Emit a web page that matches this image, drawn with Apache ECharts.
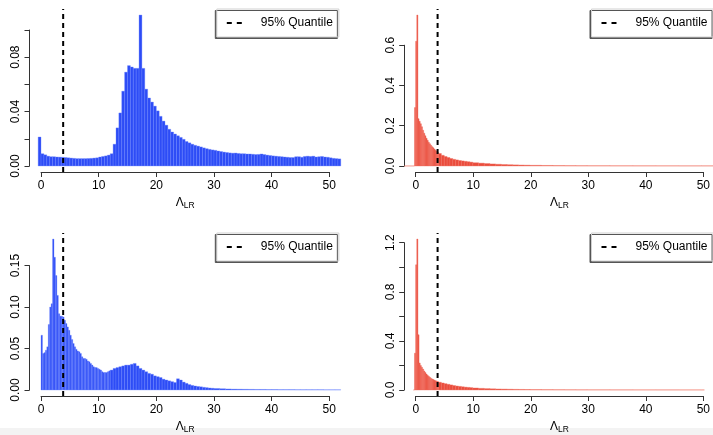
<!DOCTYPE html>
<html><head><meta charset="utf-8">
<script src="https://cdn.jsdelivr.net/npm/echarts@6/dist/echarts.min.js"></script>
<style>html,body{margin:0;padding:0;background:#fff}#c{width:713px;height:435px}</style>
</head><body><div id="c"></div>
<script>
// ---------------- data ----------------
const quantile95 = 3.84;
const legendLabel = '95% Quantile';
const xTickLabels = ['0', '10', '20', '30', '40', '50'];

// Panel 1 (top-left, blue): bins of width 0.5 starting at -0.5
const p1BinStart = -0.5;
const p1BinWidth = 0.5;
const p1Density = [
  0.0213, 0.0090, 0.0082, 0.0072, 0.0068, 0.0068, 0.0066, 0.0065, 0.0064, 0.0062,
  0.0060, 0.0058, 0.0056, 0.0054, 0.0054, 0.0054, 0.0054, 0.0055, 0.0056, 0.0058,
  0.0060, 0.0066, 0.0070, 0.0074, 0.0080, 0.0090, 0.0160, 0.0280, 0.0390, 0.0550,
  0.0690, 0.0738, 0.0728, 0.0718, 0.0718, 0.1110, 0.0718, 0.0565, 0.0500, 0.0470,
  0.0440, 0.0405, 0.0365, 0.0330, 0.0300, 0.0270, 0.0250, 0.0235, 0.0222, 0.0210,
  0.0196, 0.0180, 0.0170, 0.0160, 0.0152, 0.0146, 0.0140, 0.0133, 0.0127, 0.0122,
  0.0118, 0.0115, 0.0110, 0.0106, 0.0102, 0.0099, 0.0096, 0.0094, 0.0095, 0.0092,
  0.0090, 0.0090, 0.0088, 0.0088, 0.0086, 0.0084, 0.0085, 0.0088, 0.0084, 0.0080,
  0.0077, 0.0074, 0.0072, 0.0070, 0.0068, 0.0066, 0.0064, 0.0062, 0.0062, 0.0068,
  0.0068, 0.0064, 0.0070, 0.0072, 0.0070, 0.0072, 0.0066, 0.0068, 0.0070, 0.0066,
  0.0064, 0.0060, 0.0056, 0.0054, 0.0052
];
const p1YTicks = { max: 0.10, step: 0.02 };
const p1YTickLabels = ['0.00', '0.04', '0.08'];

// Panel 2 (top-right, red)
const p2Edges = [-2, -0.2, 0, 0.2, 0.4, 0.6, 0.8, 1, 1.2, 1.4, 1.6, 1.8, 2, 2.2, 2.4, 2.6, 2.8, 3, 3.2, 3.4, 3.6, 3.8, 4,
  4.5, 5, 5.5, 6, 6.5, 7, 7.5, 8, 8.5, 9, 9.5, 10, 11, 12, 13, 14, 15, 16, 17, 18, 19, 20, 22, 24, 26, 28, 30, 34, 38, 42, 46, 50, 52];
const p2Density = [
  0, 0.29,
  0.62, 0.75, 0.235, 0.222, 0.210, 0.195, 0.178, 0.163, 0.150, 0.138,
  0.128, 0.118, 0.110, 0.103, 0.096, 0.090, 0.084, 0.078, 0.073, 0.068,
  0.062, 0.053, 0.047, 0.042, 0.037, 0.033, 0.030, 0.027, 0.025, 0.023, 0.021, 0.019,
  0.016, 0.014, 0.012, 0.010, 0.0085, 0.0072, 0.0062, 0.0053, 0.0045, 0.0039,
  0.0032, 0.0025, 0.0019, 0.0015, 0.0012,
  0.0010, 0.0008, 0.0007, 0.0006, 0.0005,
  0.0005
];
const p2YTicks = { max: 0.6, step: 0.2 };
const p2YTickLabels = ['0.0', '0.2', '0.4', '0.6'];

// Panel 3 (bottom-left, blue)
const p3Edges = [0, 0.25, 0.5, 0.75, 1, 1.25, 1.5, 1.75, 2, 2.25, 2.5, 2.75, 3, 3.25, 3.5, 3.75, 4, 4.25, 4.5, 4.75,
  5, 5.25, 5.5, 5.75, 6, 6.25, 6.5, 6.75, 7, 7.25, 7.5, 7.75, 8, 8.25, 8.5, 8.75, 9, 9.25, 9.5, 9.75,
  10, 10.25, 10.5, 10.75, 11, 11.25, 11.5, 11.75, 12,
  12.5, 13, 13.5, 14, 14.5, 15, 15.5, 16, 16.5, 17, 17.5, 18, 18.5, 19, 19.5, 20, 20.5, 21, 21.5,
  22, 22.5, 23, 23.5, 24, 24.5, 25, 25.5, 26, 26.5, 27, 27.5, 28, 28.5, 29, 29.5, 30,
  31, 32, 33, 34, 35, 36, 37, 38, 39, 40, 41, 42, 43, 44, 45, 46, 47, 48, 49, 50, 51, 52];
const p3Density = [
  0.066, 0.044, 0.045, 0.048, 0.052, 0.079, 0.100, 0.104,
  0.182, 0.160, 0.138, 0.114, 0.092, 0.089, 0.089, 0.088,
  0.084, 0.080, 0.076, 0.072, 0.066, 0.061, 0.056, 0.052,
  0.049, 0.047, 0.046, 0.044, 0.040, 0.038, 0.038, 0.037,
  0.035, 0.034, 0.032, 0.030, 0.028, 0.027, 0.027, 0.026,
  0.025, 0.024, 0.022, 0.021, 0.021, 0.021, 0.022, 0.023,
  0.024, 0.026, 0.027, 0.028, 0.029, 0.030, 0.030, 0.031, 0.032, 0.029,
  0.026, 0.024, 0.022, 0.020, 0.019, 0.017, 0.016, 0.015, 0.013, 0.012,
  0.011, 0.010, 0.009, 0.0135, 0.012, 0.0095, 0.008, 0.0065, 0.0055, 0.0048,
  0.0042, 0.0038, 0.0032, 0.0028, 0.0024, 0.0021,
  0.0018, 0.0015, 0.0012, 0.0010, 0.0009, 0.0008, 0.0007, 0.0006, 0.0006, 0.0005, 0.0005,
  0.0004, 0.0004, 0.0004, 0.0003, 0.0003, 0.0003, 0.0003, 0.0003, 0.0002, 0.0002, 0.0002
];
const p3YTicks = { max: 0.15, step: 0.05 };
const p3YTickLabels = ['0.00', '0.05', '0.10', '0.15'];

// Panel 4 (bottom-right, red)
const p4Edges = [-0.4, -0.2, 0, 0.2, 0.4, 0.6, 0.8, 1, 1.2, 1.4, 1.6, 1.8, 2, 2.2, 2.4, 2.6, 2.8, 3, 3.2, 3.4, 3.6, 3.8, 4,
  4.5, 5, 5.5, 6, 6.5, 7, 7.5, 8, 8.5, 9, 9.5, 10, 11, 12, 13, 14, 15, 16, 17, 18, 19, 20, 22, 24, 26, 28, 30, 34, 38, 42, 46, 50, 50.5];
const p4Density = [
  0, 0.30,
  1.02, 1.23, 0.45, 0.22, 0.20, 0.185, 0.17, 0.155, 0.142, 0.130,
  0.120, 0.111, 0.103, 0.096, 0.090, 0.085, 0.080, 0.076, 0.072, 0.068,
  0.063, 0.057, 0.051, 0.046, 0.041, 0.036, 0.032, 0.029, 0.026, 0.023, 0.021, 0.019,
  0.016, 0.013, 0.011, 0.0095, 0.008, 0.007, 0.006, 0.005, 0.0043, 0.0037,
  0.003, 0.0024, 0.0019, 0.0015, 0.0012,
  0.001, 0.0008, 0.0006, 0.0005, 0.0004,
  0.0004
];
const p4YTicks = { max: 1.2, step: 0.2 };
const p4YTickLabels = ['0.0', '0.4', '0.8', '1.2'];

// ---------------- styling / layout ----------------
const FONT = '"Liberation Sans", Arial, Helvetica, sans-serif';
const BLUE = '#2d4cf6', BLUE_EDGE = 'rgba(110,135,255,0.7)';
const RED = '#ea4c3c', RED_EDGE = 'rgba(240,110,95,0.8)';
const X_MIN = -2, X_MAX = 52;
const PLOT_W = 311.3, PLOT_H = 163;
const COL_LEFT = [29.5, 404.2];
const ROW_TOP = [9, 233];
const DASH_ICON = 'path://M0,0H5V2H0Z M10,0H15V2H10Z';

function binsFromWidth(start, w, dens) {
  return dens.map((d, i) => [start + i * w, start + (i + 1) * w, d]);
}
function binsFromEdges(edges, dens) {
  return dens.map((d, i) => [edges[i], edges[i + 1], d]);
}

const panels = [
  { bins: binsFromWidth(p1BinStart, p1BinWidth, p1Density), fill: BLUE, edge: BLUE_EDGE, yt: p1YTicks, labels: p1YTickLabels, col: 0, row: 0 },
  { bins: binsFromEdges(p2Edges, p2Density), fill: RED, edge: RED_EDGE, yt: p2YTicks, labels: p2YTickLabels, col: 1, row: 0 },
  { bins: binsFromEdges(p3Edges, p3Density), fill: BLUE, edge: BLUE_EDGE, yt: p3YTicks, labels: p3YTickLabels, col: 0, row: 1 },
  { bins: binsFromEdges(p4Edges, p4Density), fill: RED, edge: RED_EDGE, yt: p4YTicks, labels: p4YTickLabels, col: 1, row: 1 }
];

const grid = [], xAxis = [], yAxis = [], series = [], legend = [];
const axisColor = '#333';

panels.forEach((p, i) => {
  const left = COL_LEFT[p.col], top = ROW_TOP[p.row];
  const peak = Math.max(...p.bins.map(b => b[2]));
  const yMin = -0.04 * peak, yMax = 1.04 * peak;
  const pixY = v => top + PLOT_H - (v - yMin) / (yMax - yMin) * PLOT_H;
  const pixX = u => left + (u - X_MIN) / (X_MAX - X_MIN) * PLOT_W;

  // data grid (plot region)
  const di = grid.length;
  grid.push({ left: left, top: top, width: PLOT_W, height: PLOT_H, containLabel: false });
  xAxis.push({ gridIndex: di, type: 'value', min: X_MIN, max: X_MAX, show: false });
  yAxis.push({ gridIndex: di, type: 'value', min: yMin, max: yMax, show: false });

  // axis grid (R-style detached axes spanning the tick range only)
  const ai = grid.length;
  const aLeft = pixX(0), aRight = pixX(50);
  const aTop = pixY(p.yt.max), aBottom = pixY(0);
  grid.push({ left: aLeft, top: aTop, width: aRight - aLeft, height: aBottom - aTop, containLabel: false });
  xAxis.push({
    gridIndex: ai, type: 'value', min: 0, max: 50, interval: 10,
    offset: top + PLOT_H - aBottom,
    axisLine: { show: true, onZero: false, lineStyle: { color: axisColor, width: 1 } },
    axisTick: { show: true, length: 5, lineStyle: { color: axisColor } },
    splitLine: { show: false },
    axisLabel: { color: '#000', fontSize: 12, fontFamily: FONT, margin: 8,
      formatter: v => xTickLabels.includes(String(v)) ? String(v) : '' },
    name: '{L|Λ}{s|LR}', nameLocation: 'middle', nameGap: 24,
    nameTextStyle: { color: '#000', fontFamily: FONT,
      rich: { L: { fontSize: 12, fontFamily: FONT, color: '#000' },
              s: { fontSize: 8.5, fontFamily: FONT, color: '#000', padding: [5, 0, 0, 0] } } }
  });
  yAxis.push({
    gridIndex: ai, type: 'value', min: 0, max: p.yt.max, interval: p.yt.step,
    offset: aLeft - left,
    axisLine: { show: true, onZero: false, lineStyle: { color: axisColor, width: 1 } },
    axisTick: { show: true, length: 5, lineStyle: { color: axisColor } },
    splitLine: { show: false },
    axisLabel: { color: '#000', fontSize: 12, fontFamily: FONT, margin: 8, rotate: 90,
      showMinLabel: true, showMaxLabel: true,
      formatter: v => {
        const dec = p.labels[0].split('.')[1].length;
        const s = Number(v).toFixed(dec);
        return p.labels.includes(s) ? s : '';
      } }
  });

  // histogram bars
  series.push({
    type: 'custom', xAxisIndex: di, yAxisIndex: di, data: p.bins,
    encode: { x: [0, 1], y: 2 }, clip: true, silent: true, animation: false,
    renderItem: (params, api) => {
      const a = api.coord([api.value(0), 0]);
      const b = api.coord([api.value(1), api.value(2)]);
      return { type: 'rect',
        shape: { x: a[0], y: b[1], width: b[0] - a[0], height: a[1] - b[1] },
        style: { fill: p.fill, stroke: p.edge, lineWidth: 0.5 } };
    }
  });
  // 95% quantile line
  series.push({
    type: 'line', name: legendLabel, xAxisIndex: di, yAxisIndex: di,
    data: [[quantile95, yMin], [quantile95, yMax]],
    symbol: 'none', animation: false, silent: true, z: 5,
    lineStyle: { color: '#000', width: 2, type: [5, 4] },
    itemStyle: { color: '#000' }
  });

  legend.push({
    data: [{ name: legendLabel, icon: DASH_ICON }], selectedMode: false,
    left: left + PLOT_W - 124, top: top,
    orient: 'horizontal', padding: [8, 6, 8, 10],
    itemWidth: 15, itemHeight: 14, symbolKeepAspect: true,
    itemStyle: { color: '#000', borderWidth: 0 },
    backgroundColor: '#fff', borderColor: '#d0d0d0', borderWidth: 1,
    shadowColor: '#555', shadowOffsetX: -1.5, shadowOffsetY: 1.5, shadowBlur: 0,
    formatter: '{t|{name}}',
    textStyle: { color: '#000', fontSize: 12, fontFamily: FONT,
      rich: { t: { fontSize: 12, fontFamily: FONT, color: '#000', padding: [0, 0, 0, 14] } } }
  });
});

const chart = echarts.init(document.getElementById('c'), null, { renderer: 'canvas' });
chart.setOption({
  animation: false,
  backgroundColor: '#fff',
  grid, xAxis, yAxis, series, legend,
  graphic: [{ type: 'rect', left: 0, top: 428, z: -10, silent: true,
    shape: { width: 713, height: 7 }, style: { fill: '#f3f3f3' } }]
});
</script></body></html>
